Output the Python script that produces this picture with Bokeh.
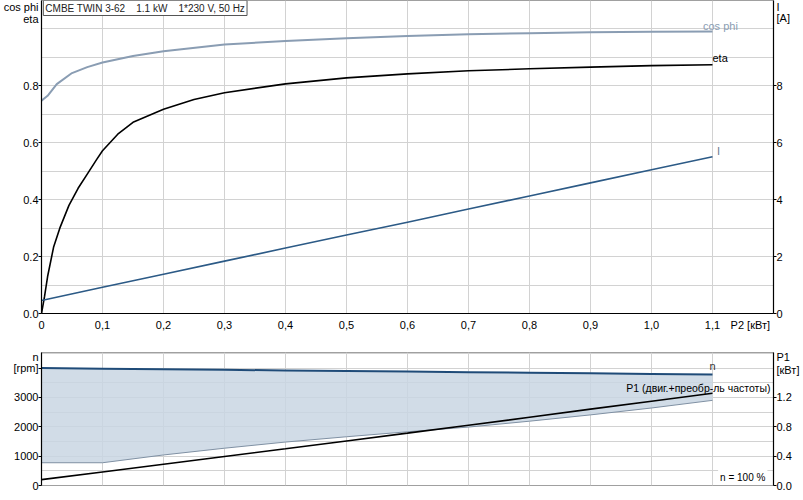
from bokeh.plotting import figure
from bokeh.models import Range1d, LinearAxis, FixedTicker, Label, CustomJSTickFormatter
from bokeh.layouts import column
from bokeh.embed import file_html
from bokeh.resources import INLINE

FONT = "Liberation Sans"

# ---------------- data ----------------
title_text = "CMBE TWIN 3-62\u00a0\u00a0\u00a0\u00a01.1 kW\u00a0\u00a0\u00a0\u00a01*230 V, 50 Hz"

p2_cos = [0, 0.01, 0.025, 0.05, 0.075, 0.1, 0.15, 0.2, 0.3, 0.4, 0.5, 0.6, 0.7, 0.8, 0.9, 1.0, 1.1]
cos_phi = [0.748, 0.765, 0.806, 0.845, 0.866, 0.882, 0.905, 0.922, 0.945, 0.958, 0.967, 0.975, 0.981, 0.985, 0.988, 0.990, 0.991]

p2_eta = [0, 0.005, 0.01, 0.02, 0.03, 0.045, 0.06, 0.075, 0.09, 0.1, 0.125, 0.15, 0.2, 0.25, 0.3, 0.4, 0.5, 0.6, 0.7, 0.8, 0.9, 1.0, 1.1]
eta = [0, 0.06, 0.13, 0.235, 0.30, 0.38, 0.44, 0.49, 0.54, 0.572, 0.63, 0.672, 0.718, 0.752, 0.776, 0.807, 0.828, 0.842, 0.853, 0.860, 0.866, 0.871, 0.874]

p2_steps = [0, 0.1, 0.2, 0.3, 0.4, 0.5, 0.6, 0.7, 0.8, 0.9, 1.0, 1.1]
current_A = [0.46, 0.92, 1.38, 1.84, 2.30, 2.76, 3.21, 3.67, 4.13, 4.59, 5.05, 5.51]

n_rpm = [4000, 3980, 3960, 3940, 3920, 3900, 3880, 3860, 3840, 3820, 3800, 3780]
n_min_rpm = [775, 775, 1040, 1270, 1480, 1660, 1830, 1990, 2190, 2405, 2640, 2900]
p1_kw = [0.08, 0.185, 0.29, 0.395, 0.50, 0.607, 0.713, 0.82, 0.93, 1.04, 1.147, 1.256]

# tick values; the extra ones carry the axis captions
x_ticks = [0, 0.1, 0.2, 0.3, 0.4, 0.5, 0.6, 0.7, 0.8, 0.9, 1.0, 1.1]
x_caption_pos = 1.162
left_ticks_top = [0, 0.2, 0.4, 0.6, 0.8]
left_caption_pos = [1.0367, 1.0824]          # eta, cos phi
right_ticks_top = [0, 2, 4, 6, 8]
right_caption_pos = [10.40, 10.824]           # [A], I
left_ticks_bot = [0, 1000, 2000, 3000, 4000]
left_caption_bot = [4364]                     # n
right_ticks_bot = [0, 0.4, 0.8, 1.2]
right_caption_bot = [1.568, 1.7456]           # [кВт], P1

GRID = "#d2d2d2"
OUT = "#a0a0a0"
COS_C = "#8a9db3"
I_C = "#2c5a86"


def style_axis(ax, ticks, captions, code):
    ax.ticker = FixedTicker(ticks=ticks + captions, minor_ticks=ticks)
    ax.formatter = CustomJSTickFormatter(code=code)
    ax.axis_line_color = "black"
    ax.axis_line_width = 1.2
    ax.major_tick_out = 0
    ax.major_tick_in = 0
    ax.major_tick_line_color = None
    ax.minor_tick_line_color = "black"
    ax.minor_tick_out = 3
    ax.minor_tick_in = 0
    ax.major_label_standoff = 0
    ax.major_label_text_font = FONT
    ax.major_label_text_font_size = "11px"
    ax.major_label_text_color = "black"


def lab(fig, x, y, text, align="center", baseline="middle", color="black", size="11px", **kw):
    fig.add_layout(Label(x=x, y=y, text=text, text_align=align, text_baseline=baseline,
                         text_color=color, text_font=FONT, text_font_size=size, **kw))


# ---------------- top panel ----------------
top = figure(width=803, height=343, x_range=Range1d(0, 1.2), y_range=Range1d(0, 1.1),
             output_backend="svg", toolbar_location=None,
             min_border_left=41, min_border_right=30, min_border_top=0, min_border_bottom=30)
top.outline_line_color = OUT
top.extra_y_ranges = {"I": Range1d(0, 11)}

style_axis(top.xaxis[0], x_ticks, [x_caption_pos],
           "if (tick > 1.15) return 'P2 [кВт]'; return tick == 0 ? '0' : tick.toFixed(1).replace('.', ',');")
top.xaxis[0].minor_tick_out = 0
top.xaxis[0].major_label_standoff = 5
style_axis(top.yaxis[0], left_ticks_top, left_caption_pos,
           "if (tick > 1.06) return 'cos phi'; if (tick > 1.0) return 'eta'; return tick.toFixed(1);")
rax = LinearAxis(y_range_name="I")
style_axis(rax, right_ticks_top, right_caption_pos,
           "if (tick > 10.6) return 'I'; if (tick > 10) return '[A]'; return tick.toFixed(0);")
top.add_layout(rax, "right")

top.xgrid.ticker = FixedTicker(ticks=[0.1, 0.2, 0.3, 0.4, 0.5, 0.6, 0.7, 0.8, 0.9, 1.0, 1.1])
top.ygrid.ticker = FixedTicker(ticks=[0.1, 0.2, 0.3, 0.4, 0.5, 0.6, 0.7, 0.8, 0.9, 1.0])
for g in (top.xgrid[0], top.ygrid[0]):
    g.grid_line_color = GRID
    g.grid_line_width = 1

top.line(p2_cos, cos_phi, line_color=COS_C, line_width=2)
top.line(p2_eta, eta, line_color="black", line_width=1.6)
top.line(p2_steps, current_A, line_color=I_C, line_width=1.6, y_range_name="I")

top.add_layout(Label(x=0.003, y=1.1, text=title_text, text_align="left", text_baseline="top",
                     text_font=FONT, text_font_size="10px", text_color="#222222",
                     background_fill_color="white", border_line_color="#555555",
                     padding=2))
lab(top, 1.113, 1.0105, "cos phi", color=COS_C)
lab(top, 1.1, 0.898, "eta", align="left")
lab(top, 1.11, 0.572, "I", color="#6a7c90")

# ---------------- bottom panel ----------------
bot = figure(width=803, height=155, x_range=top.x_range, y_range=Range1d(0, 4530),
             output_backend="svg", toolbar_location=None,
             min_border_left=41, min_border_right=30, min_border_top=9, min_border_bottom=13)
bot.outline_line_color = OUT
bot.extra_y_ranges = {"P1": Range1d(0, 1.812)}
bot.xaxis.visible = False
style_axis(bot.yaxis[0], left_ticks_bot, left_caption_bot,
           "if (tick > 4200) return 'n'; if (tick == 4000) return '[rpm]'; return tick.toFixed(0);")
rax2 = LinearAxis(y_range_name="P1")
style_axis(rax2, right_ticks_bot, right_caption_bot,
           "if (tick > 1.7) return 'P1'; if (tick > 1.5) return '[кВт]'; return tick.toFixed(1);")
bot.add_layout(rax2, "right")

bot.xgrid.ticker = FixedTicker(ticks=[0.1, 0.2, 0.3, 0.4, 0.5, 0.6, 0.7, 0.8, 0.9, 1.0, 1.1])
bot.ygrid.ticker = FixedTicker(ticks=[500, 1000, 1500, 2000, 2500, 3000, 3500, 4000, 4500])
for g in (bot.xgrid[0], bot.ygrid[0]):
    g.grid_line_color = GRID
    g.grid_line_width = 1

bot.varea(x=p2_steps, y1=n_min_rpm, y2=n_rpm, fill_color="#c9d6e3", fill_alpha=0.85)
bot.line(p2_steps, n_min_rpm, line_color="#7f90a3", line_width=1)
bot.line(p2_steps, n_rpm, line_color="#1f4b78", line_width=2)
bot.line(p2_steps, p1_kw, line_color="black", line_width=1.6, y_range_name="P1")

lab(bot, 1.1, 3852, "n", baseline="bottom", color="#333333")
lab(bot, 1.195, 3307, "P1 (двиг.+преобр-ль частоты)", align="right", size="10.5px")
bot.add_layout(Label(x=1.19, y=273, text="n = 100 %", text_align="right", text_baseline="middle",
                     text_font=FONT, text_font_size="10px", text_color="black",
                     background_fill_color="white", padding=2))

layout = column(top, bot, spacing=0)
open("out.html", "w").write(file_html(layout, INLINE))
